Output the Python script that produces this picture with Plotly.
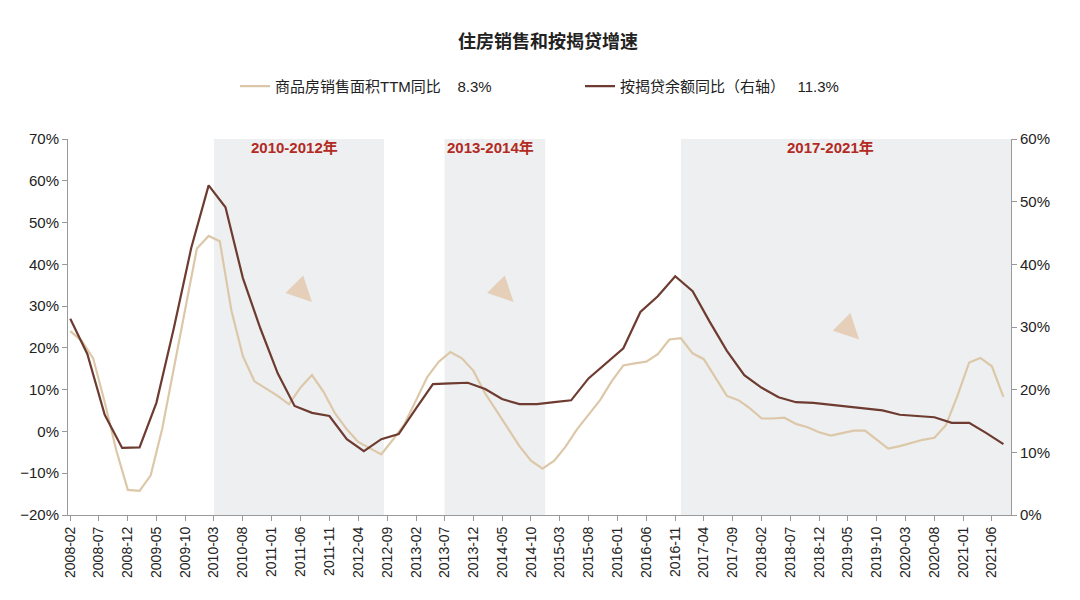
import pandas as pd
import plotly.graph_objects as go

# 商品房销售面积TTM同比 (left axis), every two months from 2008-02
sales_start = "2008-02-01"
sales_yoy = [24, 21.7, 17.5, 7, -4.5, -14, -14.2, -10.5, 0.7, 15,
             30, 43.8, 46.8, 45.5, 29, 18, 12, 10.3, 8.5, 6.5,
             10.5, 13.5, 9.5, 4.3, 0.5, -2.5, -4.1, -5.5, -2, 1.7,
             7.5, 13, 16.7, 19, 17.5, 14.5, 9.1, 5, 0.5, -3.5,
             -7, -8.9, -7, -3.7, 0.5, 4, 7.5, 12, 15.8, 16.3,
             16.7, 18.5, 22, 22.3, 18.7, 17.3, 13, 8.5, 7.5, 5.5,
             3.1, 3.1, 3.3, 1.8, 1, -0.2, -1, -0.4, 0.2, 0.2,
             -2, -4.1, -3.5, -2.8, -2, -1.5, 1.5, 8.5, 16.5, 17.6,
             15.6, 8.3]

# 按揭贷余额同比 (right axis), quarterly from 2008-02
loan_yoy = [31.3, 25.7, 16, 10.7, 10.8, 17.9, 29.8, 42.6, 52.6, 49.1,
            37.8, 29.8, 22.6, 17.4, 16.3, 15.8, 12.1, 10.2, 12.1, 12.9,
            17.0, 20.9, 21.0, 21.1, 20.1, 18.5, 17.7, 17.7, 18.0, 18.3,
            21.8, 24.2, 26.6, 32.4, 34.9, 38.1, 35.7, 30.9, 26.2, 22.3,
            20.3, 18.8, 18.0, 17.9, 17.6, 17.4, 17.0, 16.7, 16.0, 15.8,
            15.6, 14.7, 14.7, 13.1, 11.3]

periods = [("2010-03-01", "2012-08-15", "2010-2012年", "2011-05-01"),
           ("2013-07-01", "2014-12-15", "2013-2014年", "2014-03-01"),
           ("2016-12-01", "2021-09-10", "2017-2021年", "2019-02-01")]

sales_x = pd.date_range(sales_start, periods=len(sales_yoy), freq="2MS")
loan_x = pd.date_range(sales_start, periods=len(loan_yoy), freq="3MS")
ticks = pd.date_range("2008-02-01", "2021-06-01", freq="5MS")

fig = go.Figure()
fig.add_trace(go.Scatter(x=sales_x, y=sales_yoy, mode="lines",
                         name="商品房销售面积TTM同比    8.3%                    ",
                         line=dict(color="#dcc8a8", width=2.2)))
fig.add_trace(go.Scatter(x=loan_x, y=loan_yoy, mode="lines", yaxis="y2",
                         name="按揭贷余额同比（右轴）   11.3%",
                         line=dict(color="#6e3b30", width=2.2)))

for x0, x1, label, mid in periods:
    fig.add_shape(type="rect", xref="x", yref="paper", x0=x0, x1=x1, y0=0, y1=1,
                  fillcolor="#eeeff1", line_width=0, layer="below")
    fig.add_annotation(x=mid, y=1, yref="paper", text=f"<b>{label}</b>", showarrow=False,
                       yanchor="top", yshift=2, font=dict(color="#b22a22", size=15))

# small arrows marking slowdown
for ax_x, ay_y in [("2011-08-01", 31), ("2014-07-01", 31), ("2019-07-01", 22)]:
    fig.add_annotation(x=ax_x, y=ay_y, ax=-18, ay=-18, showarrow=True,
                       arrowhead=2, arrowsize=1, arrowwidth=5,
                       arrowcolor="rgba(228,200,172,0.8)", text="")

fig.update_layout(
    width=1080, height=600,
    paper_bgcolor="white", plot_bgcolor="white",
    font=dict(family="Liberation Sans, Noto Sans CJK SC", size=15, color="#222"),
    title=dict(text="<b>住房销售和按揭贷增速</b>", x=0.5, y=0.955, font=dict(size=18)),
    margin=dict(l=58, r=77, t=131, b=93),
    legend=dict(orientation="h", x=0.5, xanchor="center", y=1.14, yanchor="middle",
                font=dict(size=15)),
    showlegend=True,
    xaxis=dict(type="date", range=["2008-01-20", "2021-09-10"],
               tickvals=ticks, ticktext=[t.strftime("%Y-%m") for t in ticks],
               tickangle=-90, showgrid=False, showline=True, linecolor="#999",
               ticks="outside", ticklen=5, tickcolor="#999", tickfont=dict(size=14)),
    yaxis=dict(range=[-20, 70], dtick=10, ticksuffix="%", showgrid=False,
               showline=True, linecolor="#999", ticks="outside", tickcolor="#999",
               zeroline=False, tickfont=dict(size=15)),
    yaxis2=dict(range=[0, 60], dtick=10, ticksuffix="%", overlaying="y", side="right",
                showgrid=False, showline=True, linecolor="#999", ticks="outside",
                tickcolor="#999", zeroline=False, tickfont=dict(size=15)),
)

fig.write_html("out.html")
